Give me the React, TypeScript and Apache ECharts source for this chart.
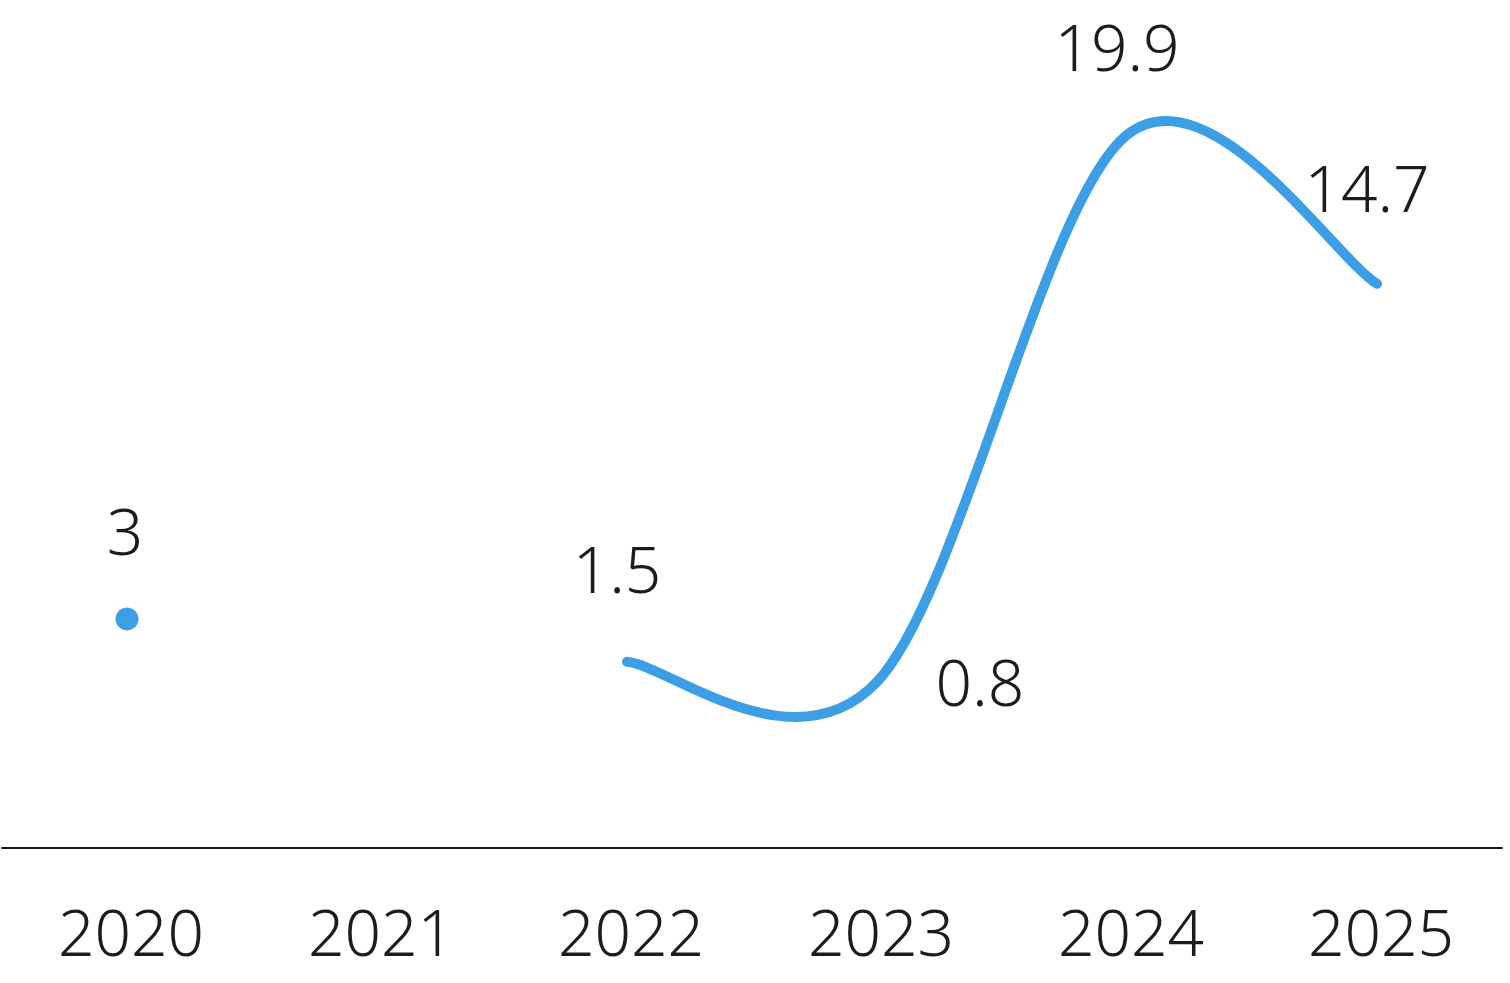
import React, { useEffect, useRef } from 'react';
import * as echarts from 'echarts';

const years = ['2020', '2021', '2022', '2023', '2024', '2025'];
const values: (number | null)[] = [3, null, 1.5, 0.8, 19.9, 14.7];

const FONT = '"Noto Sans", "Open Sans", sans-serif';
const BLUE = '#3c9ee5';
const INK = '#1c1c1c';

const App = () => {
    const chartRef = useRef<HTMLDivElement>(null);

    useEffect(() => {
        const myChart = echarts.init(chartRef.current, null, { renderer: 'svg' });

        const isNull = (i: number) => i < 0 || i >= values.length || values[i] === null;

        // catmull-rom style spline (cardinal, tension 0), ends duplicated
        const renderCurve = (params: any, api: any) => {
            const i = params.dataIndex;
            if (isNull(i) || isNull(i + 1)) return null;
            const pt = (k: number) => api.coord([k, values[k]]);
            const p0 = pt(i);
            const p1 = pt(i + 1);
            const prev = isNull(i - 1) ? p0 : pt(i - 1);
            const next = isNull(i + 2) ? p1 : pt(i + 2);
            const cp0 = [p0[0] + (p1[0] - prev[0]) / 6, p0[1] + (p1[1] - prev[1]) / 6];
            const cp1 = [p1[0] - (next[0] - p0[0]) / 6, p1[1] - (next[1] - p0[1]) / 6];
            return {
                type: 'bezierCurve',
                shape: {
                    x1: p0[0], y1: p0[1],
                    cpx1: cp0[0], cpy1: cp0[1],
                    cpx2: cp1[0], cpy2: cp1[1],
                    x2: p1[0], y2: p1[1],
                },
                style: { stroke: BLUE, lineWidth: 10, fill: 'none', lineCap: 'round' },
            };
        };

        const labelData = values.map((v, i) => {
            if (v === null) return null;
            if (i === 0) {
                return {
                    value: v,
                    symbolSize: 23,
                    itemStyle: { color: BLUE },
                    label: { distance: 53, offset: [-2, 0] },
                };
            }
            if (i === 2) {
                return { value: v, label: { distance: 69 } };
            }
            if (i === 3) {
                return { value: v, label: { position: 'right', distance: 58, offset: [0, 0] } };
            }
            if (i === 4) {
                // keep clear of the top edge
                return { value: v, label: { distance: 64 } };
            }
            return v;
        });

        myChart.setOption({
            animation: false,
            grid: { left: 2, right: 8, top: 132, bottom: 135 },
            xAxis: {
                type: 'category',
                data: years,
                boundaryGap: true,
                axisLine: { onZero: false, lineStyle: { color: INK, width: 2 } },
                axisTick: { show: false },
                axisLabel: {
                    color: INK,
                    fontFamily: FONT,
                    fontSize: 64,
                    fontWeight: 300,
                    margin: 51,
                    padding: [0, 0, 0, 8],
                },
            },
            yAxis: {
                type: 'value',
                min: -5,
                max: 20,
                show: false,
            },
            series: [
                {
                    type: 'custom',
                    clip: false,
                    silent: true,
                    renderItem: renderCurve,
                    data: values.map((v, i) => [i, v === null ? 0 : v]),
                    z: 2,
                },
                {
                    type: 'line',
                    clip: false,
                    data: labelData,
                    symbol: 'circle',
                    symbolSize: 1,
                    showSymbol: true,
                    lineStyle: { opacity: 0 },
                    itemStyle: { color: 'rgba(0,0,0,0)' },
                    z: 3,
                    label: {
                        show: true,
                        position: 'top',
                        distance: 72,
                        offset: [-10, 0],
                        color: INK,
                        fontFamily: FONT,
                        fontSize: 64,
                        fontWeight: 300,
                        lineHeight: 48,
                    },
                },
            ],
        });

        return () => {
            myChart.dispose();
        };
    }, []);

    return (
        <div
            ref={chartRef}
            style={{ position: 'fixed', left: 0, top: 0, width: '1510px', height: '983px', background: '#fff' }}
        />
    );
};

export default App;
